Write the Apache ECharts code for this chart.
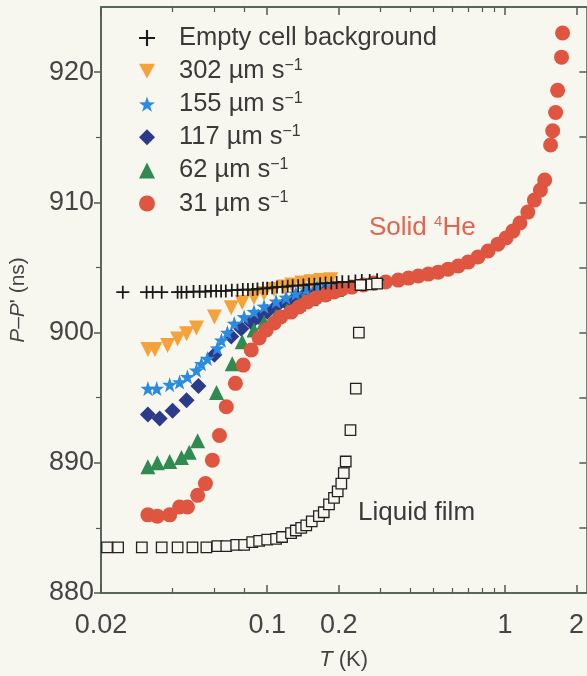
<!DOCTYPE html>
<html>
<head>
<meta charset="utf-8">
<script src="https://cdn.jsdelivr.net/npm/echarts@6/dist/echarts.min.js"></script>
<style>
html,body{margin:0;padding:0;background:#f7f7f0;}
#c{width:587px;height:676px;}
</style>
</head>
<body>
<div id="c"></div>
<script>
// ---- data (T in K, P-P' in ns) ----
const xTickLabels = [0.02, 0.1, 0.2, 1, 2];
const xMinorTicks = [0.04, 0.06, 0.08, 0.3, 0.4, 0.5, 0.6, 0.7, 0.8, 0.9];
const yTickLabels = [880, 890, 900, 910, 920];
const yMinorTicks = [885, 895, 905, 915];

const emptyT = [0.0247,0.0311,0.033,0.036,0.042,0.0436,0.0458,0.049,0.052,0.055,0.058,0.061,0.064,0.067,0.071,0.075,0.079,0.083,0.087,0.091,0.096,0.1,0.105,0.11,0.116,0.122,0.128,0.135,0.142,0.15,0.158,0.167,0.176,0.186,0.196,0.207,0.22,0.235,0.25,0.27,0.29];
const emptyV = [903.1,903.1,903.1,903.1,903.1,903.1,903.1,903.15,903.15,903.15,903.2,903.2,903.2,903.2,903.25,903.25,903.3,903.3,903.3,903.35,903.4,903.4,903.45,903.5,903.5,903.55,903.6,903.6,903.65,903.7,903.7,903.75,903.8,903.8,903.85,903.9,903.9,903.95,904.0,904.0,904.05];

const v302T = [0.0315,0.0337,0.0381,0.042,0.0458,0.0504,0.060,0.0706,0.0785,0.088,0.097,0.107,0.118,0.127,0.14,0.153,0.168,0.185];
const v302V = [898.7,898.7,899.0,899.5,899.9,900.35,901.2,901.9,902.3,902.7,903.0,903.3,903.5,903.65,903.8,903.9,904.0,904.05];

const v155T = [0.0315,0.0343,0.0389,0.0428,0.0462,0.0504,0.0529,0.056,0.0617,0.0642,0.068,0.0727,0.080,0.088,0.097,0.109,0.12,0.132,0.146,0.162,0.182];
const v155V = [895.7,895.7,896.0,896.2,896.6,897.1,897.6,898.0,898.8,899.4,900.0,900.7,901.2,901.6,902.0,902.4,902.7,903.0,903.3,903.5,903.7];

const v117T = [0.0315,0.0353,0.040,0.0458,0.0514,0.060,0.0706,0.0778,0.0857,0.0916,0.1,0.109,0.12,0.132,0.147,0.165,0.185];
const v117V = [893.7,893.4,894.0,894.8,895.9,898.3,899.7,900.3,900.8,901.2,901.6,902.0,902.3,902.7,903.1,903.4,903.6];

const v62T = [0.0315,0.0345,0.0389,0.0436,0.047,0.051,0.0612,0.0713,0.0785,0.088,0.097,0.109,0.121,0.136,0.153,0.173,0.196];
const v62V = [889.7,890.0,890.1,890.4,890.8,891.7,895.4,897.6,899.3,900.2,900.8,901.3,901.7,902.2,902.6,903.0,903.3];

const v31T = [0.0315,0.0345,0.0389,0.0428,0.0462,0.051,0.055,0.0588,0.063,0.0673,0.0735,0.0793,0.0857,0.0925,0.099,0.107,0.114,0.126,0.136,0.147,0.160,0.176,0.191,0.206,0.227,0.254,0.28,0.315,0.356,0.393,0.432,0.476,0.524,0.577,0.636,0.70,0.77,0.849,0.934,1.01,1.08,1.156,1.248,1.33,1.41,1.47,1.556,1.588,1.634,1.666,1.73,1.748];
const v31V = [886.0,885.9,886.0,886.6,886.6,887.5,888.4,890.2,892.1,894.3,896.1,897.5,898.66,899.58,900.19,900.73,901.19,901.57,901.96,902.34,902.65,902.88,903.11,903.34,903.49,903.65,903.8,903.88,904.03,904.18,904.34,904.49,904.64,904.87,905.11,905.41,905.8,906.26,906.79,907.26,907.79,908.41,909.25,910.17,910.94,911.71,914.4,915.5,916.9,918.6,921.15,923.0];

const liquidT = [0.0212,0.0236,0.0297,0.036,0.042,0.0485,0.0555,0.0617,0.0673,0.0741,0.080,0.0865,0.0925,0.1,0.109,0.1155,0.126,0.132,0.139,0.146,0.154,0.165,0.173,0.182,0.191,0.198,0.205,0.21,0.214,0.224,0.236,0.243,0.247,0.275,0.29];
const liquidV = [883.5,883.5,883.5,883.5,883.5,883.5,883.5,883.6,883.6,883.7,883.7,883.9,884.0,884.1,884.15,884.3,884.6,884.8,885.0,885.2,885.5,885.9,886.2,886.8,887.3,887.8,888.4,889.2,890.1,892.5,895.7,900.0,903.65,903.7,903.75];

const seriesNames = ['Empty cell background', '302', '155', '117', '62', '31'];

function pairs(xs, ys) { return xs.map((x, i) => [x, ys[i]]); }

const FONT = 'Liberation Sans, Arial, sans-serif';
const AX = '#4f5c54';
const TXT = '#444';

const crossPath = 'path://M-0.8,-6H0.8V-0.8H6V0.8H0.8V6H-0.8V0.8H-6V-0.8H-0.8Z';
const starPath = 'path://M0,-10L2.35,-3.24L9.51,-3.09L3.8,1.24L5.88,8.09L0,4L-5.88,8.09L-3.8,1.24L-9.51,-3.09L-2.35,-3.24Z';
const downTriPath = 'path://M-6,-5H6L0,6Z';

const chart = echarts.init(document.getElementById('c'), null, {renderer: 'canvas'});

const xBase = {type: 'log', logBase: 10, min: 0.02, max: 2.2, gridIndex: 0,
  splitLine: {show: false}, axisLine: {lineStyle: {color: AX, width: 1.5}}};
const yBase = {type: 'value', min: 880, max: 925, interval: 10, gridIndex: 0,
  splitLine: {show: false}, axisLine: {lineStyle: {color: AX, width: 1.5}}};

const option = {
  backgroundColor: '#f7f7f0',
  animation: false,
  grid: {left: 101, top: 7, width: 488, height: 586},
  xAxis: [
    Object.assign({}, xBase, {position: 'bottom',
      axisTick: {inside: true, length: 8, lineStyle: {color: AX, width: 1.5}, customValues: xTickLabels},
      axisLabel: {customValues: xTickLabels, margin: 19, fontSize: 27, color: TXT, fontFamily: FONT,
        formatter: v => String(+(+v).toPrecision(3))},
      name: '{i|T} (K)', nameLocation: 'middle', nameGap: 56,
      nameTextStyle: {fontSize: 22, color: TXT, fontFamily: FONT, rich: {i: {fontStyle: 'italic', fontSize: 22, color: TXT, fontFamily: FONT}}}
    }),
    Object.assign({}, xBase, {position: 'bottom',
      axisTick: {inside: true, length: 5, lineStyle: {color: AX, width: 1.2}, customValues: xMinorTicks},
      axisLabel: {show: false}}),
    Object.assign({}, xBase, {position: 'top',
      axisTick: {inside: true, length: 8, lineStyle: {color: AX, width: 1.5}, customValues: xTickLabels},
      axisLabel: {show: false}}),
    Object.assign({}, xBase, {position: 'top',
      axisTick: {inside: true, length: 5, lineStyle: {color: AX, width: 1.2}, customValues: xMinorTicks},
      axisLabel: {show: false}})
  ],
  yAxis: [
    Object.assign({}, yBase, {position: 'left',
      axisTick: {inside: false, length: 7, lineStyle: {color: AX, width: 1.5}, customValues: yTickLabels},
      axisLabel: {customValues: yTickLabels, margin: 7, fontSize: 27, color: TXT, fontFamily: FONT},
      name: "{i|P}–{i|P}' (ns)", nameLocation: 'middle', nameGap: 72, nameRotate: 90,
      nameTextStyle: {fontSize: 21, color: TXT, fontFamily: FONT, rich: {i: {fontStyle: 'italic', fontSize: 21, color: TXT, fontFamily: FONT}}}
    }),
    Object.assign({}, yBase, {position: 'left',
      axisTick: {inside: false, length: 5, lineStyle: {color: AX, width: 1.2}, customValues: yMinorTicks},
      axisLabel: {show: false}}),
    Object.assign({}, yBase, {position: 'right',
      axisTick: {inside: true, length: 7, lineStyle: {color: AX, width: 1.5}, customValues: yTickLabels.concat(yMinorTicks)},
      axisLabel: {show: false}})
  ],
  legend: {
    orient: 'vertical', left: 134, top: 20, itemGap: 6.6,
    itemWidth: 16, itemHeight: 16,
    data: seriesNames.map(n => n === '302' ? {name: n, icon: downTriPath} : {name: n}),
    formatter: n => '{p|}' + (n === seriesNames[0] ? n : n + ' µm s{sup|−1}'),
    textStyle: {fontSize: 25.5, color: '#3a3a3a', fontFamily: FONT,
      rich: {
        p: {width: 19},
        sup: {fontSize: 16, color: '#3a3a3a', fontFamily: FONT, padding: [0, 0, 11, 0]}
      }}
  },
  graphic: [
    {type: 'text', left: 369, top: 214, z: 100,
      style: {text: 'Solid {sup|4}He', fill: '#e2654f', font: '26px ' + FONT,
        rich: {sup: {fontSize: 15, fill: '#e2654f', padding: [0, 0, 12, 0]}}}},
    {type: 'text', left: 358, top: 500, z: 100,
      style: {text: 'Liquid film', fill: '#3a3a3a', font: '26px ' + FONT}}
  ],
  series: [
    {name: seriesNames[3], type: 'scatter', data: pairs(v117T, v117V), symbol: 'diamond', symbolSize: 16,
      itemStyle: {color: '#2c3a8a', opacity: 1}},
    {name: seriesNames[2], type: 'scatter', data: pairs(v155T, v155V), symbol: starPath, symbolSize: 15,
      itemStyle: {color: '#2b8be0', opacity: 1}},
    {name: seriesNames[4], type: 'scatter', data: pairs(v62T, v62V), symbol: 'triangle', symbolSize: 15,
      itemStyle: {color: '#2f8b4f', opacity: 1}},
    {name: seriesNames[1], type: 'scatter', data: pairs(v302T, v302V), symbol: 'triangle', symbolRotate: 180, symbolSize: 15,
      itemStyle: {color: '#f5a23a', opacity: 1}},
    {name: seriesNames[5], type: 'scatter', data: pairs(v31T, v31V), symbol: 'circle', symbolSize: 15,
      itemStyle: {color: '#e0553f', opacity: 1}},
    {name: seriesNames[0], type: 'scatter', data: pairs(emptyT, emptyV), symbol: crossPath, symbolSize: 13,
      itemStyle: {color: '#1a1a1a', opacity: 1}},
    {name: 'Liquid film', type: 'scatter', data: pairs(liquidT, liquidV), symbol: 'rect', symbolSize: 10.5,
      itemStyle: {color: '#f7f7f0', borderColor: '#222', borderWidth: 1.3, opacity: 1}}
  ]
};
chart.setOption(option);
</script>
</body>
</html>
